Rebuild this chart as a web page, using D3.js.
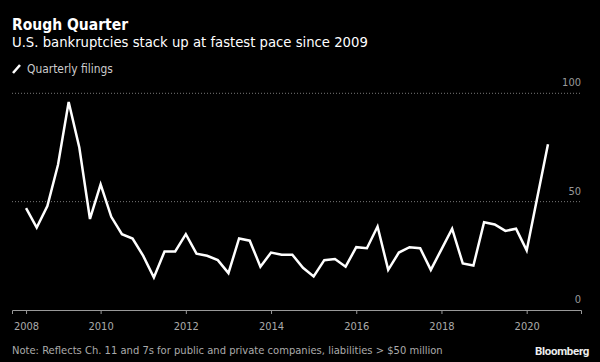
<!DOCTYPE html>
<html><head><meta charset="utf-8">
<script src="https://cdn.jsdelivr.net/npm/d3@7"></script>
<style>
html,body{margin:0;padding:0;background:#000;}
svg{display:block;}
text{font-family:"DejaVu Sans Condensed","DejaVu Sans",sans-serif;}
</style></head>
<body>
<svg id="c" width="600" height="362"></svg>
<script>
const quarters = d3.range(50); // Q1 2008 .. Q2 2020
const filings = [47,38,48,67,96,75,42,58,43,35,
                 33,25,15,27,27,35,26,25,23,17,
                 33,32,20,26.5,25.5,25.5,19.5,15.5,23,23.5,
                 20,29,28.5,38.5,18.5,26.5,29,28.5,18.5,28,
                 37.5,21.5,20.5,40.5,39.5,36.5,37.5,27.5,52,76.5];
const xTickIdx = [0,7,15,23,31,39,47];
const xTickLabels = ["2008","2010","2012","2014","2016","2018","2020"];
const yTicks = [0,50,100];

const svg = d3.select("#c");
svg.append("rect").attr("width",600).attr("height",362).attr("fill","#000");

const x = d3.scaleLinear().domain([-1.32, 52.1]).range([12, 581]);
const y = d3.scaleLinear().domain([0, 100]).range([310, 93.3]);

// title
svg.append("text").attr("x",12).attr("y",30).attr("fill","#fff")
  .style("font-size","15.5px").style("font-weight","bold").text("Rough Quarter");
svg.append("text").attr("x",12).attr("y",47).attr("fill","#fff")
  .style("font-size","14.7px").text("U.S. bankruptcies stack up at fastest pace since 2009");

// legend
svg.append("line").attr("x1",13).attr("y1",73).attr("x2",20).attr("y2",65)
  .attr("stroke","#fff").attr("stroke-width",2.5);
svg.append("text").attr("x",27).attr("y",73).attr("fill","#ccc")
  .style("font-size","11.9px").text("Quarterly filings");

// gridlines
svg.append("g").selectAll("line").data(yTicks.filter(d=>d>0)).join("line")
  .attr("x1",12).attr("x2",581).attr("y1",d=>y(d)).attr("y2",d=>y(d))
  .attr("stroke","#777").attr("stroke-width",1).attr("stroke-dasharray","1,2");
svg.append("g").selectAll("text").data(yTicks).join("text")
  .attr("x",581).attr("y",d=>y(d)-7).attr("text-anchor","end")
  .attr("fill","#999").style("font-size","11px").text(d=>d);

// x axis
const xAxis = d3.axisBottom(x).tickValues(xTickIdx)
  .tickFormat((d,i)=>xTickLabels[i]).tickSizeOuter(0).tickSize(4).tickPadding(8);
const gx = svg.append("g").attr("transform",`translate(0,${y(0)})`).call(xAxis);
gx.select(".domain").attr("stroke","#999");
gx.selectAll(".tick line").attr("stroke","#999");
gx.selectAll(".tick text").attr("fill","#aaa").style("font-size","11px")
  .style("font-family",'"DejaVu Sans Condensed","DejaVu Sans",sans-serif');

// line
svg.append("path").datum(quarters)
  .attr("fill","none").attr("stroke","#fff").attr("stroke-width",2.5)
  .attr("stroke-linejoin","miter")
  .attr("d", d3.line().x(i=>x(i)).y(i=>y(filings[i])));

// footer
svg.append("text").attr("x",12).attr("y",354).attr("fill","#aaa")
  .style("font-size","11.1px")
  .text("Note: Reflects Ch. 11 and 7s for public and private companies, liabilities > $50 million");
svg.append("text").attr("x",589).attr("y",355).attr("text-anchor","end").attr("fill","#eee")
  .style("font-size","11.5px").style("font-weight","bold")
  .style("font-family","Roboto, sans-serif").style("letter-spacing","-0.3px").text("Bloomberg");
</script>
</body></html>
